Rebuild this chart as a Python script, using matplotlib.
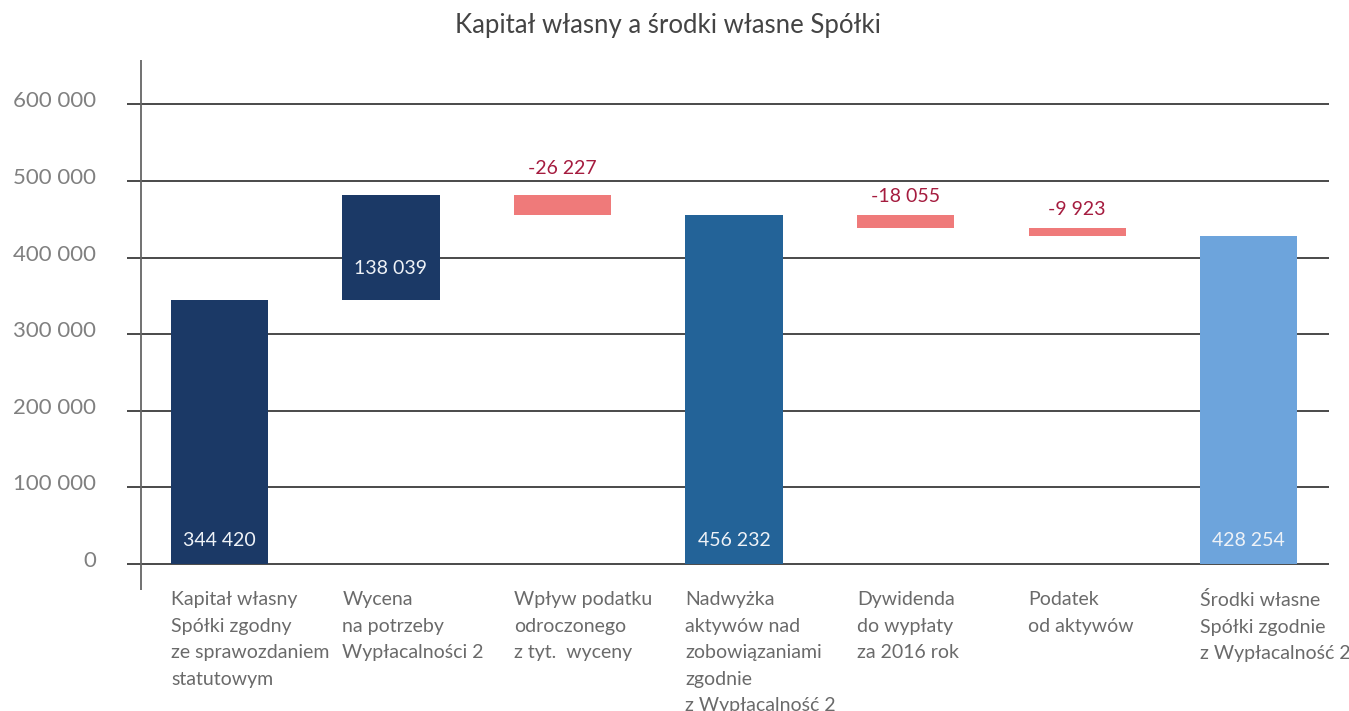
"""
Kapitał własny a środki własne Spółki - wykres kaskadowy
"""

import matplotlib
matplotlib.use('Agg')
import matplotlib.pyplot as plt
import matplotlib.transforms as mtransforms

plt.rcParams['font.family'] = ['Lato', 'DejaVu Sans']

# ─────────────────────────────────────────────
# Dane
# ─────────────────────────────────────────────
kategorie = [
    'Kapitał własny\nSpółki zgodny\nze sprawozdaniem\nstatutowym',
    'Wycena\nna potrzeby\nWypłacalności 2',
    'Wpływ podatku\nodroczonego\nz tyt.  wyceny',
    'Nadwyżka\naktywów nad\nzobowiązaniami\nzgodnie\nz Wypłacalność 2',
    'Dywidenda\ndo wypłaty\nza 2016 rok',
    'Podatek\nod aktywów',
    'Środki własne\nSpółki zgodnie\nz Wypłacalność 2',
]
wartosci = [344420, 138039, -26227, 456232, -18055, -9923, 428254]
typ = ['suma', 'zmiana', 'zmiana', 'suma', 'zmiana', 'zmiana', 'suma']
etykiety = ['344 420', '138 039', '-26 227', '456 232', '-18 055', '-9 923', '428 254']

y_ticks = [0, 100000, 200000, 300000, 400000, 500000, 600000]
y_tick_labels = ['0', '100 000', '200 000', '300 000', '400 000', '500 000', '600 000']

kolory = ['#1b3966', '#1b3966', '#ef7a7a', '#236398', '#ef7a7a', '#ef7a7a', '#6da4dc']
kolor_ujemne = '#a51c3f'

# ─────────────────────────────────────────────
# Wykres
# ─────────────────────────────────────────────
fig = plt.figure(figsize=(13.49, 7.11), dpi=100)
W, H = 1349, 711
ax = fig.add_axes([127 / W, 1 - 590 / H, (1329 - 127) / W, (590 - 60) / H])

# podstawy słupków (kaskada)
dol, gora = [], []
poziom = 0
for v, t in zip(wartosci, typ):
    if t == 'suma':
        dol.append(0)
        gora.append(v)
        poziom = v
    else:
        if v >= 0:
            dol.append(poziom)
            gora.append(poziom + v)
        else:
            dol.append(poziom + v)
            gora.append(poziom)
        poziom += v

x = list(range(len(kategorie)))
wys = [g - d for g, d in zip(gora, dol)]
ax.bar(x, wys, bottom=dol, width=0.566, color=kolory, zorder=3)

# siatka
for yt in y_ticks:
    ax.axhline(yt, color='#2b2b2b', lw=1.2, zorder=1)

ax.set_xlim(-0.539, 6.469)
ax.set_ylim(-33950, 658100)

for s in ['top', 'right', 'bottom', 'left']:
    ax.spines[s].set_visible(False)
ax.axvline(-0.458, color='#666666', lw=1.3, zorder=2)

ax.set_xticks([])
ax.set_yticks(y_ticks)
ax.set_yticklabels(y_tick_labels, fontsize=16, color='#808080')
ax.tick_params(axis='y', length=0, pad=22)
off = mtransforms.ScaledTranslation(0, 5 / 100, fig.dpi_scale_trans)
for lab in ax.get_yticklabels():
    lab.set_transform(lab.get_transform() + off)

# etykiety wartości
przes_dod = [23, 32, 0, 23, 0, 0, 23]
przes_uj = [0, 0, 18, 0, 10, 10, 0]
for i in x:
    if wartosci[i] < 0:
        ax.annotate(etykiety[i], (i, gora[i]), xytext=(0, przes_uj[i]),
                    textcoords='offset pixels', ha='center', va='bottom',
                    fontsize=14, color=kolor_ujemne, zorder=4)
    else:
        ax.annotate(etykiety[i], (i, dol[i]), xytext=(0, przes_dod[i]),
                    textcoords='offset pixels', ha='center', va='center',
                    fontsize=14, color='#eef2f7', zorder=4)

# opisy kategorii
for i, k in enumerate(kategorie):
    ax.text(i - 0.283, -35500, k, ha='left', va='top', fontsize=14,
            color='#6a6a6a', linespacing=1.68)

fig.text(668 / W, 1 - 25 / H, 'Kapitał własny a środki własne Spółki',
         ha='center', va='center', fontsize=18.5, color='#444444')

plt.savefig('out.png', dpi=100)
